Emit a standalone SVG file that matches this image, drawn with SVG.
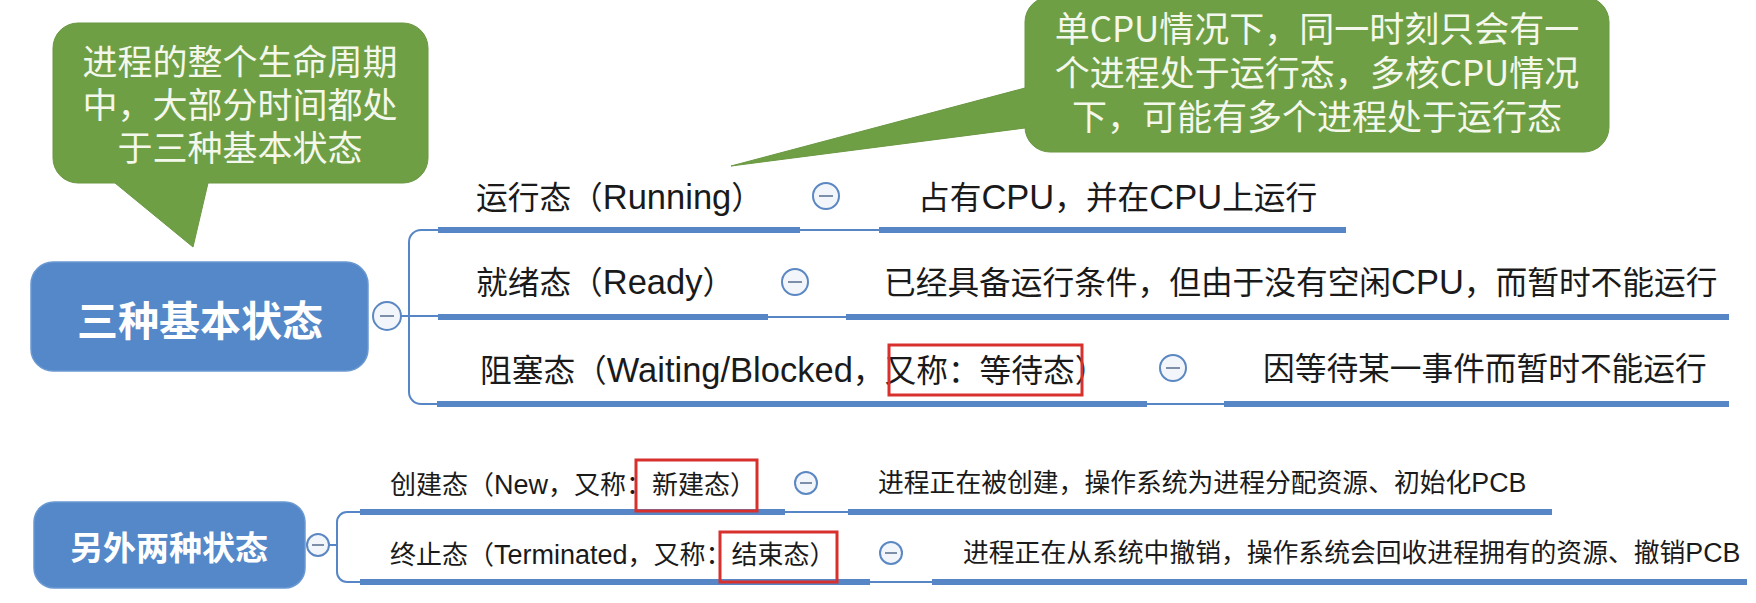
<svg xmlns="http://www.w3.org/2000/svg" width="1756" height="603" viewBox="0 0 1756 603">
<style>
.bubble{fill:#6f9f45;stroke:#6a9842;stroke-width:1}
.btxt{font-family:"Noto Sans CJK SC","Liberation Sans",sans-serif;font-size:35px;fill:#f4f8ec;text-anchor:middle}
.root{fill:#5588c8;stroke:#6a98d2;stroke-width:1.5}
.rtxt{font-family:"Noto Sans CJK SC",sans-serif;font-weight:bold;fill:#ffffff;text-anchor:middle}
.lbl{font-family:"Liberation Sans","Noto Sans CJK SC",sans-serif;font-size:31.7px;fill:#1a1a1a}
.lat{font-size:34.5px}
.lbl2{font-family:"Liberation Sans","Noto Sans CJK SC",sans-serif;font-size:26px;fill:#1a1a1a}
.lat2{font-size:27px}
.desc2{font-family:"Liberation Sans","Noto Sans CJK SC",sans-serif;font-size:25.8px;fill:#1a1a1a}
.lat3{font-size:26.8px}
.thick{stroke:#5686c6;stroke-width:6;fill:none}
.thin{stroke:#5686c6;stroke-width:2;fill:none}
.tog{fill:#f2f5fa;stroke:#5b87c2;stroke-width:2}
.minus{stroke:#7d8ea8;stroke-width:2}
.red{fill:none;stroke:#d8302c;stroke-width:3}
</style>

<!-- callout bubbles -->
<g id="note-left">
<path class="bubble" d="M78,23 H403 A25,25 0 0 1 428,48 V158 A25,25 0 0 1 403,183 H208 L193,247 L115,183 H78 A25,25 0 0 1 53,158 V48 A25,25 0 0 1 78,23 Z"/>
<text class="btxt" x="240" y="75">进程的整个生命周期</text>
<text class="btxt" x="240" y="118">中，大部分时间都处</text>
<text class="btxt" x="240" y="161">于三种基本状态</text>
</g>

<g id="note-right">
<path class="bubble" d="M1050,-3 H1584 A25,25 0 0 1 1609,22 V127 A25,25 0 0 1 1584,152 H1050 A25,25 0 0 1 1025,127 V128 L731,166 L1025,88 V22 A25,25 0 0 1 1050,-3 Z"/>
<text class="btxt" x="1317" y="42">单CPU情况下，同一时刻只会有一</text>
<text class="btxt" x="1317" y="86">个进程处于运行态，多核CPU情况</text>
<text class="btxt" x="1317" y="130">下，可能有多个进程处于运行态</text>
</g>

<!-- connectors -->
<g id="connectors">
<!-- top tree -->
<line class="thin" x1="400" y1="316" x2="438" y2="316"/>
<path class="thin" d="M438,230 H421 A12,12 0 0 0 409,242 V392 A12,12 0 0 0 421,404 H438"/>
<line class="thick" x1="438" y1="230" x2="800" y2="230"/>
<line class="thin" x1="800" y1="230" x2="879" y2="230"/>
<line class="thick" x1="879" y1="230" x2="1346" y2="230"/>
<line class="thick" x1="438" y1="317" x2="768" y2="317"/>
<line class="thin" x1="768" y1="317" x2="846" y2="317"/>
<line class="thick" x1="846" y1="317" x2="1729" y2="317"/>
<line class="thick" x1="437" y1="404" x2="1147" y2="404"/>
<line class="thin" x1="1147" y1="404" x2="1224" y2="404"/>
<line class="thick" x1="1224" y1="404" x2="1729" y2="404"/>
<!-- bottom tree -->
<line class="thin" x1="329" y1="545" x2="337" y2="545"/>
<path class="thin" d="M360,512 H347 A10,10 0 0 0 337,522 V572 A10,10 0 0 0 347,582 H360"/>
<line class="thick" x1="360" y1="512" x2="785" y2="512"/>
<line class="thin" x1="785" y1="512" x2="848" y2="512"/>
<line class="thick" x1="848" y1="512" x2="1552" y2="512"/>
<line class="thick" x1="360" y1="582" x2="870" y2="582"/>
<line class="thin" x1="870" y1="582" x2="932" y2="582"/>
<line class="thick" x1="932" y1="582" x2="1747" y2="582"/>
</g>

<!-- root nodes -->
<g id="root-three">
<rect class="root" x="31" y="262" width="337" height="109" rx="22"/>
<text class="rtxt" x="200" y="336" font-size="41">三种基本状态</text>
<circle class="tog" cx="387" cy="316" r="14"/>
<line class="minus" x1="380" y1="316" x2="394" y2="316"/>
</g>

<g id="root-two">
<rect class="root" x="34" y="502" width="271" height="86" rx="20"/>
<text class="rtxt" x="169" y="560" font-size="33">另外两种状态</text>
<circle class="tog" cx="318" cy="545" r="11"/>
<line class="minus" x1="312" y1="545" x2="324" y2="545"/>
</g>

<!-- state nodes -->
<g id="running">
<text class="lbl" x="476" y="209">运行态（<tspan class="lat">Running</tspan>）</text>
<circle class="tog" cx="826" cy="196" r="13"/>
<line class="minus" x1="819" y1="196" x2="833" y2="196"/>
</g>
<g id="running-desc">
<text class="lbl" x="918" y="209">占有<tspan class="lat">CPU</tspan>，并在<tspan class="lat">CPU</tspan>上运行</text>
</g>

<g id="ready">
<text class="lbl" x="476" y="294">就绪态（<tspan class="lat">Ready</tspan>）</text>
<circle class="tog" cx="795" cy="282" r="13"/>
<line class="minus" x1="788" y1="282" x2="802" y2="282"/>
</g>
<g id="ready-desc">
<text class="lbl" x="884" y="294">已经具备运行条件，但由于没有空闲<tspan class="lat">CPU</tspan>，而暂时不能运行</text>
</g>

<g id="blocked">
<text class="lbl" x="480" y="382">阻塞态（<tspan class="lat">Waiting/Blocked</tspan>，又称：等待态）</text>
<rect class="red" x="889" y="345" width="193" height="50"/>
<circle class="tog" cx="1173" cy="368" r="13"/>
<line class="minus" x1="1166" y1="368" x2="1180" y2="368"/>
</g>
<g id="blocked-desc">
<text class="lbl" x="1263" y="380">因等待某一事件而暂时不能运行</text>
</g>

<g id="new">
<text class="lbl2" x="390" y="494">创建态（<tspan class="lat2">New</tspan>，又称：新建态）</text>
<rect class="red" x="636" y="460" width="121" height="51"/>
<circle class="tog" cx="806" cy="483" r="11"/>
<line class="minus" x1="800" y1="483" x2="812" y2="483"/>
</g>
<g id="new-desc">
<text class="desc2" x="878" y="492">进程正在被创建，操作系统为进程分配资源、初始化<tspan class="lat3">PCB</tspan></text>
</g>

<g id="terminated">
<text class="lbl2" x="390" y="564">终止态（<tspan class="lat2">Terminated</tspan>，又称：结束态）</text>
<rect class="red" x="720" y="532" width="117" height="50"/>
<circle class="tog" cx="891" cy="553" r="11"/>
<line class="minus" x1="885" y1="553" x2="897" y2="553"/>
</g>
<g id="terminated-desc">
<text class="desc2" x="963" y="562">进程正在从系统中撤销，操作系统会回收进程拥有的资源、撤销<tspan class="lat3">PCB</tspan></text>
</g>
</svg>
